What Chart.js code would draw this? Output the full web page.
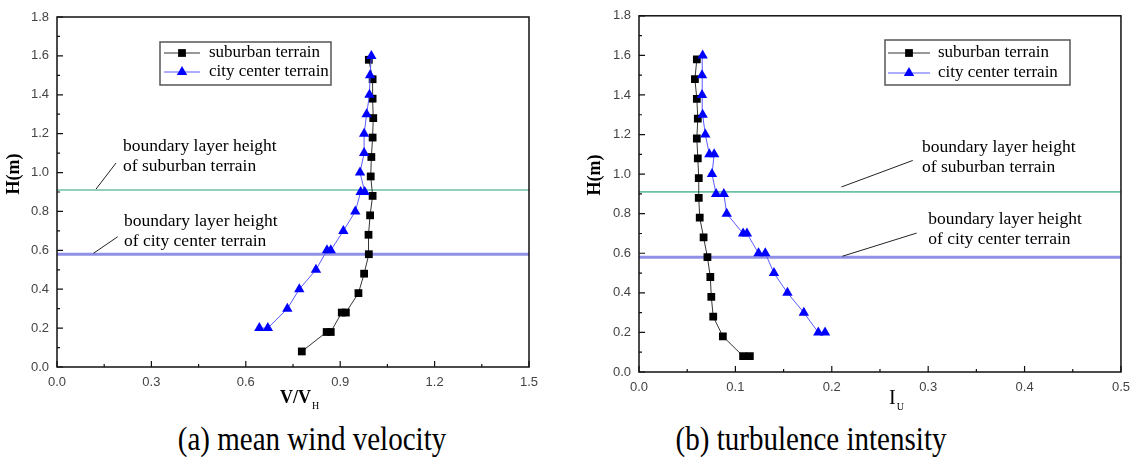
<!DOCTYPE html>
<html>
<head>
<meta charset="utf-8">
<script src="https://cdn.jsdelivr.net/npm/chart.js@4.4.1/dist/chart.umd.min.js"></script>
<style>
body { margin: 0; background: #fff; width: 1138px; height: 458px; overflow: hidden; position: relative; }
.box { position: absolute; top: 0; width: 569px; height: 410px; }
#boxA { left: 0; }
#boxB { left: 569px; }
.cap { position: absolute; top: 421px; width: 400px; text-align: center; font-family: "Liberation Serif", "Times New Roman", serif; font-size: 33px; line-height: 36px; color: #000; transform: scaleX(0.88); transform-origin: center; }
</style>
</head>
<body>
<div class="box" id="boxA"><canvas id="chartA"></canvas></div>
<div class="box" id="boxB"><canvas id="chartB"></canvas></div>
<div class="cap" style="left:112px">(a) mean wind velocity</div>
<div class="cap" style="left:611px">(b) turbulence intensity</div>
<script>
// (a) mean wind velocity  V/VH vs H(m)
const velSubH  = [0.08, 0.18, 0.18, 0.28, 0.28, 0.38, 0.48, 0.58, 0.68, 0.78, 0.88, 0.98, 1.08, 1.18, 1.28, 1.38, 1.48, 1.58];
const velSubV  = [0.778, 0.857, 0.870, 0.905, 0.918, 0.958, 0.976, 0.991, 0.990, 0.995, 1.003, 0.997, 0.999, 1.003, 1.005, 1.003, 1.003, 0.991];
const velCityH = [0.2, 0.2, 0.3, 0.4, 0.5, 0.6, 0.6, 0.7, 0.8, 0.9, 0.9, 1.0, 1.1, 1.2, 1.3, 1.4, 1.5, 1.6];
const velCityV = [0.643, 0.670, 0.732, 0.770, 0.823, 0.858, 0.870, 0.910, 0.948, 0.965, 0.978, 0.963, 0.976, 0.976, 0.984, 0.993, 0.995, 0.999];

// (b) turbulence intensity  Iu vs H(m)
const turbSubH  = [0.08, 0.08, 0.18, 0.28, 0.38, 0.48, 0.58, 0.68, 0.78, 0.88, 0.98, 1.08, 1.18, 1.28, 1.38, 1.48, 1.58];
const turbSubI  = [0.115, 0.108, 0.087, 0.077, 0.075, 0.074, 0.071, 0.067, 0.063, 0.062, 0.062, 0.061, 0.060, 0.061, 0.060, 0.058, 0.060];
const turbCityH = [0.2, 0.2, 0.3, 0.4, 0.5, 0.6, 0.6, 0.7, 0.7, 0.8, 0.9, 0.9, 1.0, 1.1, 1.1, 1.2, 1.3, 1.4, 1.5, 1.6];
const turbCityI = [0.193, 0.186, 0.171, 0.154, 0.140, 0.131, 0.124, 0.112, 0.108, 0.091, 0.088, 0.080, 0.0757, 0.078, 0.073, 0.0688, 0.066, 0.0654, 0.0654, 0.066];

// boundary layer heights: suburban, city center
const boundaryH = [0.91, 0.58];

const seriesNames = ["suburban terrain", "city center terrain"];
const noteLines = [["boundary layer height", "of suburban terrain"], ["boundary layer height", "of city center terrain"]];

// axis ranges / tick steps
const velAxis = [0, 1.5, 0.3];
const turbAxis = [0, 0.5, 0.1];
const hAxis = [0, 1.8, 0.2];

function pts(xs, ys) {
    let result = [];
    for (let i = 0; i < xs.length; i++) {
        result.push({ x: xs[i], y: ys[i] });
    }
    return result;
}

const SERIF = '"Liberation Serif", "Times New Roman", serif';
const SANS = '"Liberation Sans", Arial, sans-serif';

const decor = {
    id: 'decor',
    afterDraw(chart, args, o) {
        const ctx = chart.ctx;
        const a = chart.chartArea;
        const xs = chart.scales.x, ys = chart.scales.y;
        ctx.save();

        // frame
        ctx.strokeStyle = '#111';
        ctx.lineWidth = 1.5;
        ctx.strokeRect(a.left, a.top, a.right - a.left, a.bottom - a.top);

        // inward ticks, major + minor
        ctx.lineWidth = 1.2;
        ctx.beginPath();
        let xt = xs.ticks.map(t => t.value);
        for (let i = 0; i < xt.length; i++) {
            let p = xs.getPixelForValue(xt[i]);
            ctx.moveTo(p, a.bottom); ctx.lineTo(p, a.bottom - 6);
            if (i < xt.length - 1) {
                let m = xs.getPixelForValue((xt[i] + xt[i + 1]) / 2);
                ctx.moveTo(m, a.bottom); ctx.lineTo(m, a.bottom - 3);
            }
        }
        let yt = ys.ticks.map(t => t.value);
        for (let i = 0; i < yt.length; i++) {
            let p = ys.getPixelForValue(yt[i]);
            ctx.moveTo(a.left, p); ctx.lineTo(a.left + 6, p);
            if (i < yt.length - 1) {
                let m = ys.getPixelForValue((yt[i] + yt[i + 1]) / 2);
                ctx.moveTo(a.left, m); ctx.lineTo(a.left + 3, m);
            }
        }
        ctx.stroke();

        // y title
        ctx.fillStyle = '#000';
        ctx.font = 'bold 18px ' + SERIF;
        ctx.textAlign = 'center';
        ctx.textBaseline = 'middle';
        ctx.save();
        ctx.translate(o.yTitle[0], o.yTitle[1]);
        ctx.rotate(-Math.PI / 2);
        ctx.fillText('H(m)', 0, 0);
        ctx.restore();

        // x title with subscript
        ctx.textAlign = 'left';
        ctx.textBaseline = 'alphabetic';
        ctx.font = o.xTitleFont + ' ' + SERIF;
        ctx.fillText(o.xTitle, o.xTitlePos[0], o.xTitlePos[1]);
        let w = ctx.measureText(o.xTitle).width;
        ctx.font = '10px ' + SERIF;
        ctx.fillText(o.xSub, o.xTitlePos[0] + w + 1, o.xTitlePos[1] + 6);

        // boundary notes with leader lines (data coords)
        ctx.font = '17.5px ' + SERIF;
        ctx.textBaseline = 'middle';
        ctx.strokeStyle = '#222';
        ctx.lineWidth = 1;
        o.notes.forEach(n => {
            let tx = xs.getPixelForValue(n.at[0]);
            let ty = ys.getPixelForValue(n.at[1]);
            ctx.fillText(n.lines[0], tx, ty);
            ctx.fillText(n.lines[1], tx, ty + 20);
            ctx.beginPath();
            ctx.moveTo(xs.getPixelForValue(n.from[0]), ys.getPixelForValue(n.from[1]));
            ctx.lineTo(xs.getPixelForValue(n.to[0]), ys.getPixelForValue(n.to[1]));
            ctx.stroke();
        });

        // legend box
        let L = o.legend;
        ctx.strokeStyle = '#555';
        ctx.lineWidth = 1.5;
        ctx.strokeRect(L.box[0], L.box[1], L.box[2], L.box[3]);
        ctx.font = '17px ' + SERIF;
        L.items.forEach((idx, k) => {
            let ds = chart.data.datasets[idx];
            let cy = L.rowY[k];
            ctx.strokeStyle = ds.borderColor;
            ctx.lineWidth = 1;
            ctx.beginPath();
            ctx.moveTo(L.line[0], cy); ctx.lineTo(L.line[1], cy);
            ctx.stroke();
            ctx.fillStyle = ds.pointBackgroundColor;
            ctx.strokeStyle = ds.pointBackgroundColor;
            Chart.helpers.drawPoint(ctx, { pointStyle: ds.pointStyle, radius: ds.pointRadius, rotation: 0, borderWidth: 0 }, (L.line[0] + L.line[1]) / 2, cy);
            ctx.fillStyle = '#000';
            ctx.fillText(ds.label, L.textX, cy);
        });
        ctx.restore();
    }
};

function makeChart(id, p) {
    const subData = pts(p.subX, p.subH);
    const cityData = pts(p.cityX, p.cityH);
    const data = {
        datasets: [{
            label: seriesNames[1],
            data: cityData,
            showLine: true,
            borderColor: '#5a5aff',
            borderWidth: 1,
            pointStyle: 'triangle',
            pointRadius: 6,
            pointBackgroundColor: '#0000ff',
            pointBorderColor: '#0000ff',
            pointBorderWidth: 0
        }, {
            label: seriesNames[0],
            data: subData,
            showLine: true,
            borderColor: '#333',
            borderWidth: 1,
            pointStyle: 'rect',
            pointRadius: 5.5,
            pointBackgroundColor: '#000',
            pointBorderColor: '#000',
            pointBorderWidth: 0
        }, {
            label: 'boundary suburban',
            data: [{ x: p.axis[0], y: boundaryH[0] }, { x: p.axis[1], y: boundaryH[0] }],
            showLine: true,
            borderColor: '#6cc0a6',
            borderWidth: 1.6,
            pointRadius: 0
        }, {
            label: 'boundary city',
            data: [{ x: p.axis[0], y: boundaryH[1] }, { x: p.axis[1], y: boundaryH[1] }],
            showLine: true,
            borderColor: '#9090e6',
            borderWidth: 3,
            pointRadius: 0
        }]
    };

    const config = {
        type: 'scatter',
        data: data,
        options: {
            responsive: true,
            maintainAspectRatio: false,
            animation: false,
            events: [],
            layout: { autoPadding: false, padding: p.padding },
            plugins: {
                legend: { display: false },
                tooltip: { enabled: false },
                decor: p.decor
            },
            scales: {
                x: {
                    type: 'linear',
                    min: p.axis[0], max: p.axis[1],
                    afterFit: s => { s.height = p.xH; },
                    grid: { display: false, drawTicks: false },
                    border: { display: false },
                    ticks: {
                        stepSize: p.axis[2],
                        padding: 8,
                        color: '#444',
                        font: { family: SANS, size: 13 },
                        callback: v => v.toFixed(1)
                    }
                },
                y: {
                    type: 'linear',
                    min: hAxis[0], max: hAxis[1],
                    afterFit: s => { s.width = p.yW; },
                    grid: { display: false, drawTicks: false },
                    border: { display: false },
                    ticks: {
                        stepSize: hAxis[2],
                        padding: 8,
                        color: '#444',
                        font: { family: SANS, size: 13 },
                        callback: v => v.toFixed(1)
                    }
                }
            }
        },
        plugins: [decor]
    };
    return new Chart(document.getElementById(id), config);
}

makeChart('chartA', {
    subX: velSubV, subH: velSubH, cityX: velCityV, cityH: velCityH,
    axis: velAxis,
    padding: { top: 17, right: 40, bottom: 0, left: 0 },
    yW: 57, xH: 43,
    decor: {
        yTitle: [14, 174],
        xTitle: 'V/V', xSub: 'H', xTitleFont: 'bold 18px', xTitlePos: [280, 403],
        notes: [
            { lines: noteLines[0], at: [0.21, 1.133], from: [0.1875, 1.049], to: [0.124, 0.915] },
            { lines: noteLines[1], at: [0.213, 0.751], from: [0.193, 0.670], to: [0.116, 0.585] }
        ],
        legend: { box: [160, 42, 171, 43], line: [164, 200], textX: 209, rowY: [53, 72], items: [1, 0] }
    }
});

makeChart('chartB', {
    subX: turbSubI, subH: turbSubH, cityX: turbCityI, cityH: turbCityH,
    axis: turbAxis,
    padding: { top: 14, right: 12, bottom: 0, left: 0 },
    yW: 70, xH: 38,
    decor: {
        yTitle: [26, 175],
        xTitle: 'I', xSub: 'U', xTitleFont: '20px', xTitlePos: [320, 404],
        notes: [
            { lines: noteLines[0], at: [0.2936, 1.136], from: [0.284, 1.069], to: [0.210, 0.935] },
            { lines: noteLines[1], at: [0.300, 0.769], from: [0.288, 0.702], to: [0.211, 0.585] }
        ],
        legend: { box: [316, 40, 185, 45], line: [319, 361], textX: 369, rowY: [53, 73], items: [1, 0] }
    }
});
</script>
</body>
</html>
